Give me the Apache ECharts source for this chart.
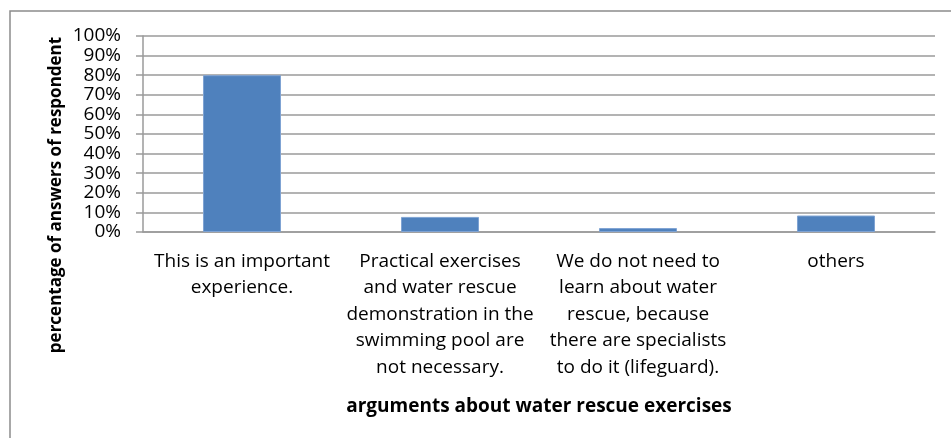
<!DOCTYPE html>
<html>
<head>
<meta charset="utf-8">
<script src="https://cdn.jsdelivr.net/npm/echarts@6/dist/echarts.min.js"></script>
<style>
  html, body { margin: 0; padding: 0; background: #fff; }
  #chart { width: 951px; height: 438px; }
</style>
</head>
<body>
<div id="chart"></div>
<script>
var categories = [
	'This is an important\nexperience.',
	'Practical exercises\nand water rescue\ndemonstration in the\nswimming pool are\nnot necessary.',
	'We do not need to\nlearn about water\nrescue, because\nthere are specialists\nto do it (lifeguard).',
	'others'
];
var percentValues = [80, 7.7, 2, 8.4];
var yTicks = [0, 10, 20, 30, 40, 50, 60, 70, 80, 90, 100];

var chart = echarts.init(document.getElementById('chart'));
var font = '"Open Sans", "Liberation Sans", sans-serif';

var option = {
	animation: false,
	backgroundColor: '#fff',
	grid: { left: 143, right: 16, top: 36, bottom: 206 },
	graphic: [
		{
			type: 'polyline',
			shape: { points: [[10, 460], [10, 11], [960, 11]] },
			style: { stroke: '#8c8c8c', lineWidth: 1.5, fill: null }
		},
		{
			type: 'text',
			x: 56,
			y: 195,
			rotation: Math.PI / 2,
			style: {
				text: 'percentage of answers of respondent',
				fontFamily: font,
				fontWeight: 'bold',
				fontSize: 17,
				fill: '#000',
				align: 'center',
				verticalAlign: 'middle'
			}
		}
	],
	xAxis: {
		type: 'category',
		data: categories,
		name: 'arguments about water rescue exercises',
		nameLocation: 'middle',
		nameGap: 165,
		nameTextStyle: { fontFamily: font, fontWeight: 'bold', fontSize: 19, color: '#000' },
		axisLine: { lineStyle: { color: '#9a9a9a', width: 1.5 } },
		axisTick: { show: false },
		axisLabel: {
			interval: 0,
			margin: 16,
			fontFamily: font,
			fontSize: 19,
			lineHeight: 26.5,
			color: '#000'
		}
	},
	yAxis: {
		type: 'value',
		min: 0,
		max: 100,
		interval: 10,
		axisLine: { show: true, lineStyle: { color: '#9a9a9a', width: 1.5 } },
		axisTick: { show: true, length: 7, lineStyle: { color: '#9a9a9a', width: 1.5 } },
		splitLine: { lineStyle: { color: '#9a9a9a', width: 1.5 } },
		axisLabel: {
			margin: 22,
			fontFamily: font,
			fontSize: 19,
			color: '#000',
			formatter: function (v) {
				return yTicks.indexOf(v) >= 0 ? v + '%' : '';
			}
		}
	},
	series: [
		{
			type: 'bar',
			data: percentValues,
			barWidth: '39.4%',
			itemStyle: { color: '#4F81BD', borderColor: '#7fa3d3', borderWidth: 1 }
		}
	]
};

chart.setOption(option);
</script>
</body>
</html>
